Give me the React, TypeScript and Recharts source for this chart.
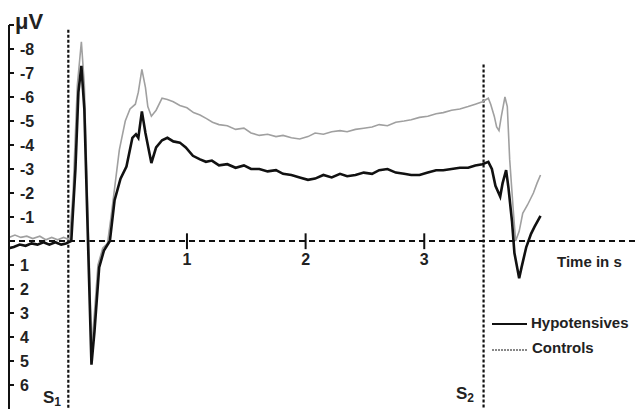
import { LineChart, Line, XAxis, YAxis, ReferenceLine } from "recharts";

// time in seconds, amplitude in µV (negative is up)
const hypoTime = [
  -0.5, -0.46, -0.41, -0.36, -0.31, -0.26, -0.21, -0.16, -0.11, -0.06, -0.02,
  0.025, 0.06, 0.085, 0.11, 0.135, 0.16, 0.18, 0.195, 0.22, 0.26, 0.3, 0.35,
  0.39, 0.44, 0.49, 0.54, 0.57, 0.59, 0.62, 0.65, 0.7, 0.74, 0.79, 0.835,
  0.885, 0.94, 0.99, 1.05, 1.11, 1.16, 1.21, 1.27, 1.34, 1.41, 1.48, 1.54,
  1.61, 1.68, 1.75, 1.81, 1.88, 1.95, 2.02, 2.08, 2.15, 2.22, 2.29, 2.35,
  2.42, 2.49, 2.56, 2.62, 2.69, 2.76, 2.83, 2.89, 2.96, 3.03, 3.1, 3.16,
  3.23, 3.3, 3.37, 3.43, 3.49, 3.54, 3.57, 3.6, 3.64, 3.66, 3.69, 3.71,
  3.74, 3.76, 3.8, 3.82, 3.86, 3.9, 3.93, 3.98,
];
const hypoValues = [
  0.3, 0.25, 0.15, 0.2, 0.1, 0.15, 0.05, 0.15, 0.05, 0.15, 0.1,
  0.0, -3.0, -6.2, -7.3, -5.5, -1.0, 2.5, 5.15, 3.8, 1.1, 0.4, 0.0,
  -1.7, -2.6, -3.1, -4.3, -4.45, -4.3, -5.4, -4.5, -3.25, -3.9, -4.2, -4.3,
  -4.15, -4.1, -3.9, -3.55, -3.4, -3.3, -3.35, -3.15, -3.2, -3.05, -3.15, -3.0,
  -3.0, -2.9, -2.95, -2.8, -2.75, -2.65, -2.55, -2.6, -2.75, -2.65, -2.8, -2.7,
  -2.75, -2.85, -2.8, -2.95, -3.0, -2.85, -2.8, -2.75, -2.75, -2.85, -2.95, -2.95,
  -3.0, -3.05, -3.05, -3.15, -3.2, -3.3, -3.0, -2.3, -1.85, -2.4, -2.95, -2.2,
  -0.8, 0.5, 1.55, 1.1, 0.25, -0.3, -0.6, -1.05,
];

const ctrlTime = [
  -0.5, -0.45, -0.4, -0.35, -0.3, -0.24, -0.19, -0.14, -0.09, -0.04, 0.01,
  0.04, 0.076, 0.11, 0.135, 0.16, 0.18, 0.195, 0.22, 0.25, 0.29, 0.33, 0.36,
  0.4, 0.43, 0.48, 0.52, 0.565, 0.59, 0.62, 0.65, 0.67, 0.7, 0.74, 0.79,
  0.835, 0.885, 0.94, 1.0, 1.055, 1.11, 1.165, 1.215, 1.27, 1.34, 1.41, 1.48,
  1.54, 1.61, 1.68, 1.75, 1.81, 1.88, 1.95, 2.02, 2.08, 2.15, 2.22, 2.29,
  2.35, 2.42, 2.49, 2.56, 2.62, 2.69, 2.76, 2.83, 2.89, 2.96, 3.03, 3.1,
  3.16, 3.23, 3.3, 3.37, 3.43, 3.49, 3.54, 3.56, 3.59, 3.61, 3.63, 3.65,
  3.68, 3.7, 3.72, 3.75, 3.77, 3.8, 3.83, 3.87, 3.92, 3.95, 3.98,
];
const ctrlValues = [
  -0.15, -0.25, -0.15, -0.2, -0.1, -0.2, -0.05, -0.15, -0.05, -0.15, -0.05,
  -2.0, -6.5, -8.3, -6.5, -2.0, 1.5, 4.5, 3.0, 1.0, 0.3, 0.1, -1.0,
  -2.6, -3.8, -5.0, -5.5, -5.7, -6.2, -7.15, -6.4, -5.6, -5.2, -5.45, -5.95,
  -5.9, -5.8, -5.65, -5.55, -5.35, -5.25, -5.1, -4.95, -4.85, -4.8, -4.65, -4.7,
  -4.5, -4.4, -4.45, -4.35, -4.4, -4.3, -4.25, -4.35, -4.5, -4.45, -4.55, -4.6,
  -4.55, -4.65, -4.7, -4.75, -4.85, -4.8, -4.95, -5.0, -5.05, -5.15, -5.2, -5.3,
  -5.35, -5.45, -5.5, -5.6, -5.7, -5.8, -5.95, -5.7, -5.2, -4.75, -4.6, -5.2,
  -6.0, -5.6, -3.4, -1.3, 0.0, -0.4, -1.15, -1.5, -2.0, -2.4, -2.75,
];

const yTicks = [-9, -8, -7, -6, -5, -4, -3, -2, -1, 0, 1, 2, 3, 4, 5, 6];
const timeTicks = [1, 2, 3];
const stimulusTimes = [0, 3.5];

const FONT = "'Liberation Sans', Arial, sans-serif";

export default function App() {
  const hypoData = hypoTime.map((t, i) => ({ t, v: hypoValues[i] }));
  const ctrlData = ctrlTime.map((t, i) => ({ t, v: ctrlValues[i] }));

  return (
    <div style={{ position: "absolute", left: 0, top: 0, width: 639, height: 409, background: "#fff" }}>
      <LineChart width={639} height={409} margin={{ top: 25, right: 0, left: 9, bottom: 0 }}>
        <XAxis dataKey="t" type="number" domain={[-0.5, 4.81]} hide allowDataOverflow />
        <YAxis
          type="number"
          domain={[-9, 7]}
          reversed
          mirror
          width={1}
          ticks={yTicks}
          interval={0}
          tickSize={5}
          tickMargin={6}
          tickFormatter={(v: number) => (v === -9 || v === 0 ? "" : String(v))}
          axisLine={{ stroke: "#111", strokeWidth: 2 }}
          tickLine={{ stroke: "#111", strokeWidth: 2 }}
          tick={{ fontSize: 16, fontWeight: 700, fill: "#222", fontFamily: FONT }}
          allowDataOverflow
        />
        <ReferenceLine y={0} stroke="#111" strokeWidth={1.8} strokeDasharray="6 4" />
        {timeTicks.map((t) => (
          <ReferenceLine
            key={t}
            segment={[{ x: t, y: -0.32 }, { x: t, y: 0.34 }]}
            stroke="#111"
            strokeWidth={2}
            label={{ value: String(t), position: "bottom", offset: 4, fontSize: 16, fontWeight: 700, fill: "#222", fontFamily: FONT }}
          />
        ))}
        <ReferenceLine segment={[{ x: stimulusTimes[0], y: -8.8 }, { x: stimulusTimes[0], y: 7 }]} stroke="#111" strokeWidth={2.2} strokeDasharray="3 2" />
        <ReferenceLine segment={[{ x: stimulusTimes[1], y: -7.35 }, { x: stimulusTimes[1], y: 7 }]} stroke="#111" strokeWidth={2.2} strokeDasharray="3 2" />
        <Line data={ctrlData} dataKey="v" type="linear" stroke="#a0a0a0" strokeWidth={1.6} dot={false} isAnimationActive={false} />
        <Line data={hypoData} dataKey="v" type="linear" stroke="#111" strokeWidth={2.6} dot={false} isAnimationActive={false} />
      </LineChart>
      <svg width={639} height={409} style={{ position: "absolute", left: 0, top: 0, pointerEvents: "none" }}>
        <g fontFamily={FONT} fill="#222">
          <text x={15} y={29} fontSize={22} fontWeight={700}>μV</text>
          <text x={557} y={267} fontSize={15} fontWeight={700}>Time in s</text>
          <text x={43} y={403} fontSize={17} fontWeight={700}>S<tspan fontSize={12} dy={3}>1</tspan></text>
          <text x={456} y={399} fontSize={17} fontWeight={700}>S<tspan fontSize={12} dy={3}>2</tspan></text>
          <line x1={492} x2={527} y1={324} y2={324} stroke="#111" strokeWidth={2} />
          <text x={531} y={328} fontSize={15} fontWeight={700}>Hypotensives</text>
          <line x1={492} x2={527} y1={350} y2={350} stroke="#888" strokeWidth={2} strokeDasharray="2 1" />
          <text x={532} y={353} fontSize={15} fontWeight={700}>Controls</text>
        </g>
      </svg>
    </div>
  );
}
